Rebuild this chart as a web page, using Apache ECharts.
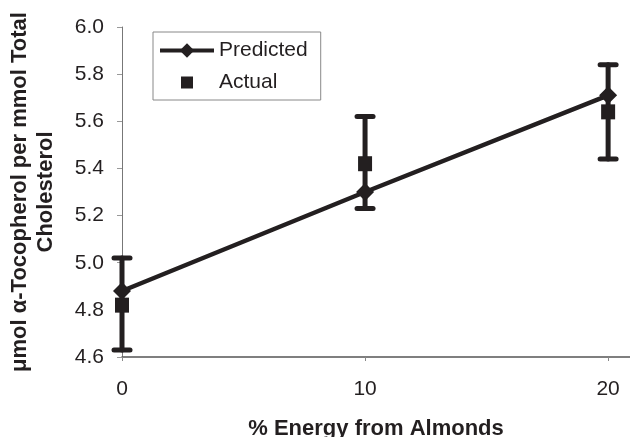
<!DOCTYPE html>
<html>
<head>
<meta charset="utf-8">
<script src="https://cdn.jsdelivr.net/npm/echarts@6/dist/echarts.min.js"></script>
<style>
  html, body { margin: 0; padding: 0; background: #fff; }
  #chart { width: 630px; height: 437px; }
</style>
</head>
<body>
<div id="chart"></div>
<script>
// % energy from almonds
var xValues = [0, 10, 20];
// predicted values
var predicted = [4.88, 5.30, 5.71];
// actual values with error bar ends
var actual = [4.82, 5.42, 5.64];
var errLow = [4.63, 5.23, 5.44];
var errHigh = [5.02, 5.62, 5.84];

var ink = '#231f20';
var font = 'Liberation Sans, Arial, sans-serif';

var myChart = echarts.init(document.getElementById('chart'));

var predData = xValues.map(function (x, i) { return [x, predicted[i]]; });
var actData = xValues.map(function (x, i) { return [x, actual[i]]; });
var errData = xValues.map(function (x, i) { return [x, errLow[i], errHigh[i]]; });

myChart.setOption({
  animation: false,
  grid: { left: 122, right: 0, top: 27, bottom: 80, outerBoundsMode: 'none', containLabel: false },
  legend: {
    orient: 'vertical',
    left: 153,
    top: 32,
    padding: [8, 13, 7, 5],
    itemGap: 11,
    itemWidth: 54,
    itemHeight: 18,
    borderColor: '#888',
    borderWidth: 1,
    lineStyle: { width: 4, color: ink },
    itemStyle: { color: ink, opacity: 1 },
    textStyle: { fontFamily: font, fontSize: 21, color: ink },
    data: [
      { name: 'Predicted' },
      { name: 'Actual', icon: 'path://M0,0M54,18M21,3h12v12h-12z' }
    ]
  },
  xAxis: {
    type: 'value',
    min: 0,
    max: 20.9,
    interval: 10,
    name: '% Energy from Almonds',
    nameLocation: 'middle',
    nameGap: 61,
    nameTextStyle: { fontFamily: font, fontSize: 22, fontWeight: 'bold', color: ink },
    axisLine: { show: true, lineStyle: { color: '#555', width: 1.5 } },
    axisTick: { show: true, length: 4, lineStyle: { color: '#888' } },
    axisLabel: { margin: 22, fontFamily: font, fontSize: 21, color: ink, showMaxLabel: false },
    splitLine: { show: false }
  },
  yAxis: {
    type: 'value',
    min: 4.6,
    max: 6.0,
    interval: 0.2,
    name: 'μmol α-Tocopherol per mmol Total\nCholesterol',
    nameLocation: 'middle',
    nameRotate: 90,
    nameGap: 63,
    nameTextStyle: { fontFamily: font, fontSize: 22, fontWeight: 'bold', color: ink, lineHeight: 26 },
    axisLine: { show: true, lineStyle: { color: '#777', width: 1 } },
    axisTick: { show: true, length: 5, lineStyle: { color: '#999' } },
    axisLabel: {
      margin: 18,
      fontFamily: font,
      fontSize: 21,
      color: ink,
      formatter: function (v) { return v.toFixed(1); }
    },
    splitLine: { show: false }
  },
  series: [
    {
      name: 'error',
      type: 'custom',
      data: errData,
      z: 2,
      renderItem: function (params, api) {
        var x = api.value(0);
        var top = api.coord([x, api.value(2)]);
        var bot = api.coord([x, api.value(1)]);
        var cap = 8;
        var st = { stroke: ink, lineWidth: 5, lineCap: 'round' };
        return {
          type: 'group',
          children: [
            { type: 'line', shape: { x1: top[0], y1: top[1], x2: bot[0], y2: bot[1] }, style: st },
            { type: 'line', shape: { x1: top[0] - cap, y1: top[1], x2: top[0] + cap, y2: top[1] }, style: st },
            { type: 'line', shape: { x1: bot[0] - cap, y1: bot[1], x2: bot[0] + cap, y2: bot[1] }, style: st }
          ]
        };
      }
    },
    {
      name: 'Actual',
      type: 'scatter',
      data: actData,
      symbol: 'rect',
      symbolSize: [14, 15],
      z: 3,
      itemStyle: { color: ink, opacity: 1 }
    },
    {
      name: 'Predicted',
      type: 'line',
      data: predData,
      symbol: 'diamond',
      symbolSize: 18,
      z: 4,
      lineStyle: { color: ink, width: 4.5 },
      itemStyle: { color: ink, opacity: 1 }
    }
  ]
});
</script>
</body>
</html>
